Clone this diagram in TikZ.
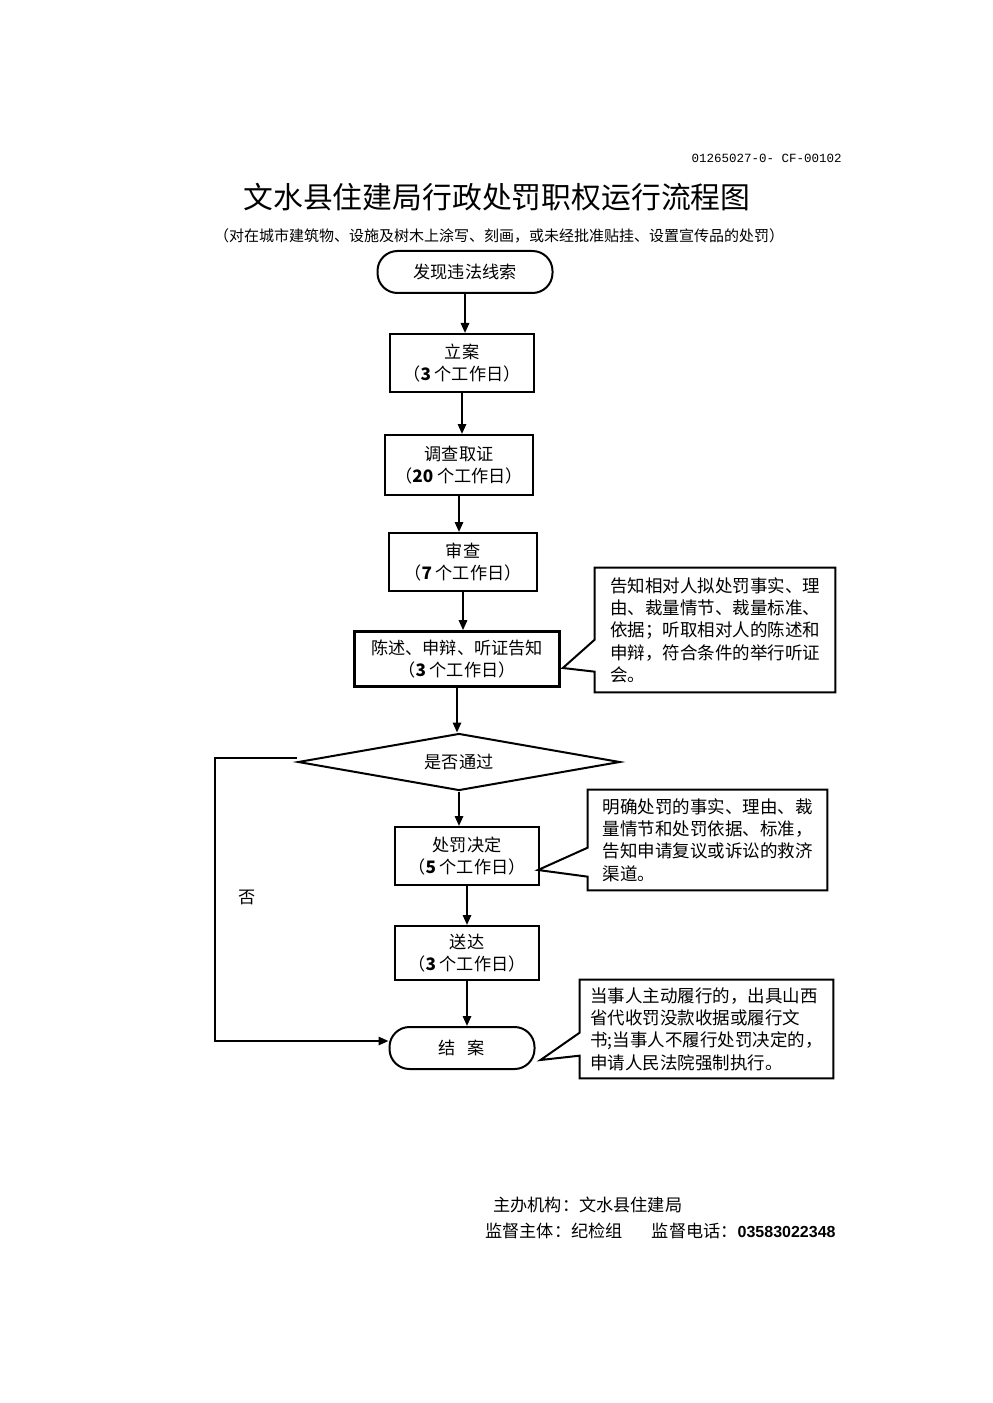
\documentclass[tikz,border=0pt]{standalone}
\usepackage{fontspec}
\setmainfont{Noto Sans CJK SC}
\newfontfamily\codefont{Liberation Mono}
\newfontfamily\digitfont{Liberation Sans}
\usetikzlibrary{shapes.geometric,arrows.meta,calc}
\newcommand{\bodyfont}{\fontsize{10.3}{13.3}\selectfont}
\newcommand{\notefont}{\fontsize{10.5}{13.4}\selectfont}
\tikzset{
	stepbox/.style={draw,line width=1.2pt,minimum width=86.4pt,minimum height=34.8pt,align=center,inner sep=1pt},
	endbox/.style={draw,line width=1.2pt,rounded corners=12pt,minimum height=25.2pt,align=center},
	notebox/.style={align=left,inner sep=0pt,font=\notefont},
	outline/.style={line width=1.2pt,line join=miter},
	flow/.style={line width=1.2pt,-{Triangle[length=6pt,width=5pt]}}
}
\begin{document}
\begin{tikzpicture}[x=0.6pt,y=-0.6pt,font=\bodyfont]
	\useasboundingbox (0,0) rectangle (992,1403);
	% heading
	\node[anchor=east,inner sep=0pt,font=\codefont\fontsize{7.5}{9}\selectfont] (code) at (842,158) {01265027-0- CF-00102};
	\node[font=\fontsize{17.9}{20}\selectfont] (title) at (497,197) {文水县住建局行政处罚职权运行流程图};
	\node[font=\fontsize{9}{11}\selectfont] (subtitle) at (499,236) {（对在城市建筑物、设施及树木上涂写、刻画，或未经批准贴挂、设置宣传品的处罚）};
	% flow
	\node[endbox,minimum width=105pt] (find) at (465,272) {发现违法线索};
	\node[stepbox] (lian) at (462,363) {立案\\（\textbf{3} 个工作日）};
	\node[stepbox,minimum width=88.8pt,minimum height=36pt] (diaocha) at (459,465) {调查取证\\（\textbf{20} 个工作日）};
	\node[stepbox,minimum width=88.8pt] (shencha) at (463,562) {审查\\（\textbf{7} 个工作日）};
	\node[stepbox,line width=1.6pt,minimum width=123pt,minimum height=33pt] (chenshu) at (457,659) {陈述、申辩、听证告知\\（\textbf{3} 个工作日）};
	\node[diamond,draw,line width=1.2pt,aspect=5.6,minimum width=193.2pt,minimum height=34.2pt,inner sep=0pt] (pass) at (459,762) {是否通过};
	\node[stepbox] (chufa) at (467,856) {处罚决定\\（\textbf{5} 个工作日）};
	\node[stepbox,minimum height=32.4pt] (songda) at (467,953) {送达\\（\textbf{3} 个工作日）};
	\node[endbox,minimum width=87pt] (jiean) at (462,1048) {结\hspace{0.7em}案};
	\foreach \a/\b in {find/lian,lian/diaocha,diaocha/shencha,shencha/chenshu,chenshu/pass,pass/chufa,chufa/songda,songda/jiean}
		\draw[flow] (\a.south) -- (\a.south |- \b.north);
	% no branch
	\coordinate (bend) at (215,758);
	\draw[flow] ($(pass.west)+(0,-4)$) -- (bend) |- ($(jiean.west)+(0,-7)$);
	\node (no) at (247,897) {否};
	% notes
	\node[notebox,minimum width=144pt,minimum height=74.4pt] (noteA) at (715,630) {告知相对人拟处罚事实、理\\由、裁量情节、裁量标准、\\依据；听取相对人的陈述和\\申辩，符合条件的举行听证\\会。};
	\coordinate (tipA) at ($(chenshu.east)+(2,9)$);
	\draw[outline] (noteA.north west) -- (noteA.north east) -- (noteA.south east) -- (noteA.south west) -- ($(noteA.north west)+(0,104)$) -- (tipA) -- ($(noteA.north west)+(0,72)$) -- cycle;
	\node[notebox,minimum width=143.4pt,minimum height=60pt] (noteB) at (707.5,840) {明确处罚的事实、理由、裁\\量情节和处罚依据、标准，\\告知申请复议或诉讼的救济\\渠道。};
	\coordinate (tipB) at ($(chufa.east)+(-2,14)$);
	\draw[outline] (noteB.north west) -- (noteB.north east) -- (noteB.south east) -- (noteB.south west) -- ($(noteB.north west)+(0,87)$) -- (tipB) -- ($(noteB.north west)+(0,58)$) -- cycle;
	\node[notebox,minimum width=151.8pt,minimum height=58.8pt] (noteC) at (706.5,1029) {当事人主动履行的，出具山西\\省代收罚没款收据或履行文\\书;当事人不履行处罚决定的，\\申请人民法院强制执行。};
	\coordinate (tipC) at ($(jiean.east)+(5,12)$);
	\draw[outline] (noteC.north west) -- (noteC.north east) -- (noteC.south east) -- (noteC.south west) -- ($(noteC.north west)+(0,76)$) -- (tipC) -- ($(noteC.north west)+(0,53)$) -- cycle;
	% footer
	\node[anchor=west,inner sep=0pt] (host) at (493,1205) {主办机构：文水县住建局};
	\node[anchor=west,inner sep=0pt] (watch) at (485,1231) {监督主体：纪检组\hspace{1.7em}监督电话：{\digitfont\bfseries\fontsize{9.6}{12}\selectfont 03583022348}};
\end{tikzpicture}
\end{document}
